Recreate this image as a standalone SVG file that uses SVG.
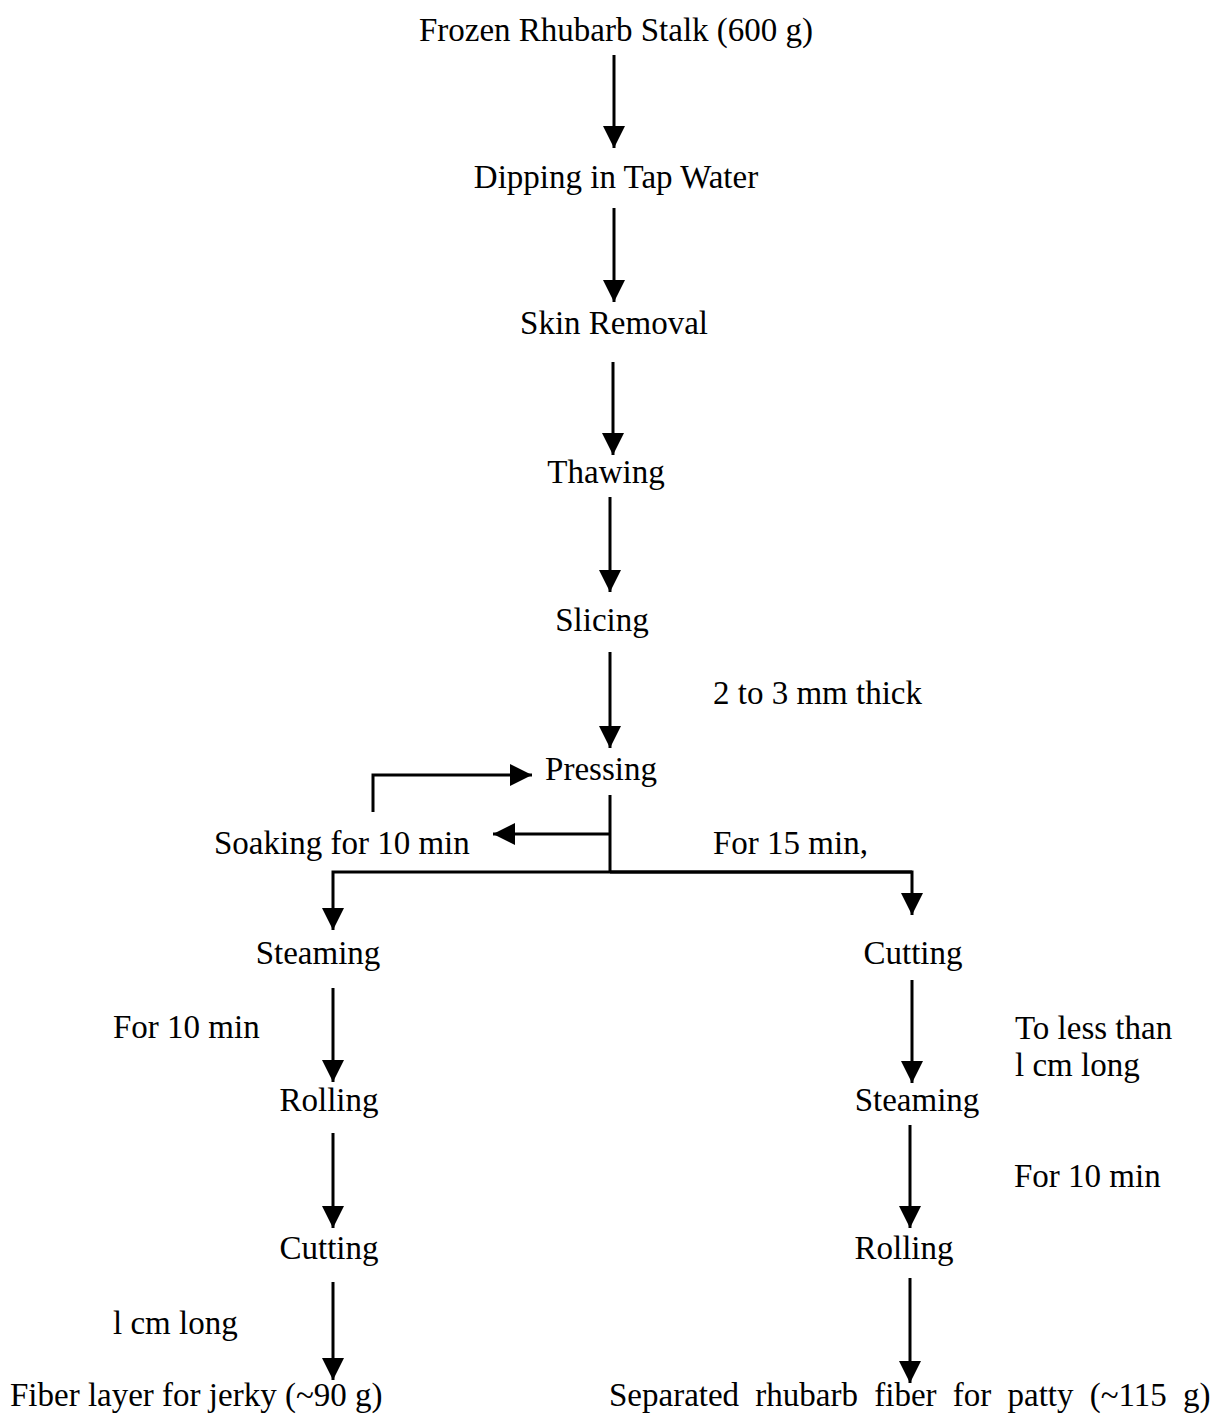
<svg xmlns="http://www.w3.org/2000/svg" width="1219" height="1414" viewBox="0 0 1219 1414">
<defs>
<style>
text{font-family:"Liberation Serif","Times New Roman",serif;font-size:33px;fill:#000}
.c{text-anchor:middle}
.ln{stroke:#000;stroke-width:3;fill:none}
</style>
<marker id="ah" markerUnits="userSpaceOnUse" markerWidth="24" markerHeight="24" viewBox="0 0 24 24" refX="22" refY="12" orient="auto">
<path d="M0,1 L22,12 L0,23 Z" fill="#000"/>
</marker>
</defs>
<rect width="1219" height="1414" fill="#fff"/>
<g id="connectors">
<line class="ln" x1="614" y1="55" x2="614" y2="148" marker-end="url(#ah)"/>
<line class="ln" x1="614" y1="208" x2="614" y2="302" marker-end="url(#ah)"/>
<line class="ln" x1="613" y1="362" x2="613" y2="455" marker-end="url(#ah)"/>
<line class="ln" x1="610" y1="497" x2="610" y2="592" marker-end="url(#ah)"/>
<line class="ln" x1="610" y1="652" x2="610" y2="748" marker-end="url(#ah)"/>
<line class="ln" x1="610" y1="795" x2="610" y2="872"/>
<line class="ln" x1="610" y1="834" x2="493" y2="834" marker-end="url(#ah)"/>
<polyline class="ln" points="373,812 373,775 532,775" marker-end="url(#ah)"/>
<polyline class="ln" points="912,872 333,872 333,930" marker-end="url(#ah)"/>
<polyline class="ln" points="610,872 912,872 912,915" marker-end="url(#ah)"/>
<line class="ln" x1="333" y1="988" x2="333" y2="1082" marker-end="url(#ah)"/>
<line class="ln" x1="333" y1="1133" x2="333" y2="1228" marker-end="url(#ah)"/>
<line class="ln" x1="333" y1="1282" x2="333" y2="1380" marker-end="url(#ah)"/>
<line class="ln" x1="912" y1="980" x2="912" y2="1083" marker-end="url(#ah)"/>
<line class="ln" x1="910" y1="1125" x2="910" y2="1228" marker-end="url(#ah)"/>
<line class="ln" x1="910" y1="1278" x2="910" y2="1383" marker-end="url(#ah)"/>
</g>
<g id="n-frozen"><text class="c" x="616" y="41">Frozen Rhubarb Stalk (600 g)</text></g>
<g id="n-dipping"><text class="c" x="616" y="188">Dipping in Tap Water</text></g>
<g id="n-skin"><text class="c" x="614" y="334">Skin Removal</text></g>
<g id="n-thawing"><text class="c" x="606" y="483">Thawing</text></g>
<g id="n-slicing"><text class="c" x="602" y="631">Slicing</text></g>
<g id="l-thick"><text x="713" y="704">2 to 3 mm thick</text></g>
<g id="n-pressing"><text class="c" x="601" y="780">Pressing</text></g>
<g id="n-soaking"><text x="214" y="854">Soaking for 10 min</text></g>
<g id="l-15min"><text x="713" y="854">For 15 min,</text></g>
<g id="n-steaming-l"><text class="c" x="318" y="964">Steaming</text></g>
<g id="n-cutting-r"><text class="c" x="913" y="964">Cutting</text></g>
<g id="l-10min-l"><text x="113" y="1038">For 10 min</text></g>
<g id="l-less"><text x="1015" y="1039">To less than</text><text x="1015" y="1076">l cm long</text></g>
<g id="n-rolling-l"><text class="c" x="329" y="1111">Rolling</text></g>
<g id="n-steaming-r"><text class="c" x="917" y="1111">Steaming</text></g>
<g id="l-10min-r"><text x="1014" y="1187">For 10 min</text></g>
<g id="n-cutting-l"><text class="c" x="329" y="1259">Cutting</text></g>
<g id="n-rolling-r"><text class="c" x="904" y="1259">Rolling</text></g>
<g id="l-1cm"><text x="113" y="1334">l cm long</text></g>
<g id="n-jerky"><text x="10" y="1406">Fiber layer for jerky (~90 g)</text></g>
<g id="n-patty"><text x="609" y="1406" word-spacing="8">Separated rhubarb fiber for patty (~115 g)</text></g>
</svg>
